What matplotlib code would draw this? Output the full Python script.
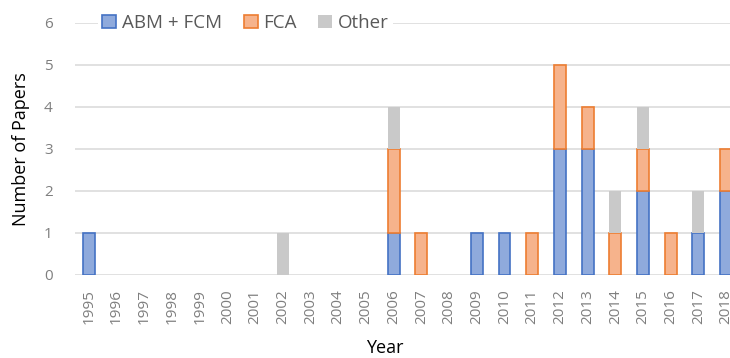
import numpy as np
import matplotlib.pyplot as plt

years = [str(y) for y in range(1995, 2019)]
abm_fcm = [1, 0, 0, 0, 0, 0, 0, 0, 0, 0, 0, 1, 0, 0, 1, 1, 0, 3, 3, 0, 2, 0, 1, 2]
fca     = [0, 0, 0, 0, 0, 0, 0, 0, 0, 0, 0, 2, 1, 0, 0, 0, 1, 2, 1, 1, 1, 1, 0, 1]
other   = [0, 0, 0, 0, 0, 0, 0, 1, 0, 0, 0, 1, 0, 0, 0, 0, 0, 0, 0, 1, 1, 0, 1, 0]

plt.rcParams['font.family'] = ['Open Sans', 'DejaVu Sans']

fig = plt.figure(figsize=(7.3, 3.58), dpi=100)
ax = fig.add_axes([75 / 730, 83 / 358, 665 / 730, 252 / 358])

x = np.arange(len(years))
w = 0.43
abm = np.array(abm_fcm)
fc = np.array(fca)
ot = np.array(other)


def stacked(vals, base, **kw):
    # skip empty segments so no edge line is drawn at zero height
    m = vals > 0
    return ax.bar(x[m], vals[m], w, bottom=base[m], zorder=3, **kw)


stacked(abm, np.zeros_like(abm), color='#8faadc', edgecolor='#4472c4', linewidth=1.2, label='ABM + FCM')
stacked(fc, abm, color='#f6b38c', edgecolor='#ed7d31', linewidth=1.2, label='FCA')
stacked(ot, abm + fc, color='#c9c9c9', edgecolor='none', label='Other')

ax.set_xlim(-0.5, len(years) - 0.5)
ax.set_ylim(0, 6)
ax.set_yticks(range(7))
ax.set_xticks(x)
ax.set_xticklabels(years, rotation=90)
ax.tick_params(axis='both', length=0, colors='#7f7f7f', labelsize=11)
ax.tick_params(axis='y', pad=16)
ax.tick_params(axis='x', pad=10)
ax.grid(axis='y', color='#d9d9d9', linewidth=1.1, zorder=0)
for s in ax.spines.values():
    s.set_visible(False)

ax.set_ylabel('Number of Papers', fontsize=13, color='black', labelpad=10)
ax.set_xlabel('Year', fontsize=13, color='black')
ax.xaxis.set_label_coords((385 - 75) / 665, -0.255)

leg = ax.legend(loc='center left', bbox_to_anchor=(14 / 665, 1.0), ncol=3, frameon=True,
                fontsize=13.5, handlelength=0.75, handleheight=0.75, handletextpad=0.3,
                columnspacing=1.15, borderpad=0.2, labelcolor='#595959')
leg.get_frame().set_facecolor('white')
leg.get_frame().set_edgecolor('none')
leg.get_frame().set_alpha(1)

fig.savefig('out.png', dpi=100)
